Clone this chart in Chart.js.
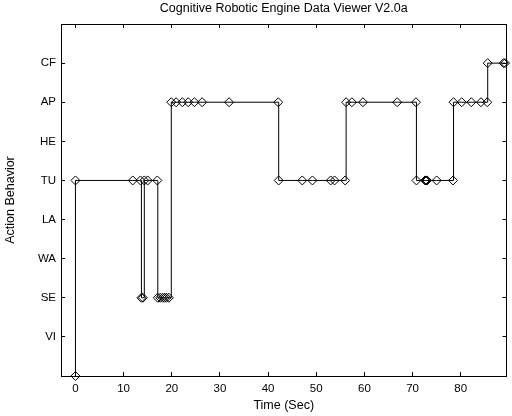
<!DOCTYPE html>
<html>
<head>
	<title>Cognitive Robotic Engine Data Viewer</title>
	<style>
		body { margin: 0; background: #fff; }
		#wrap { width: 512px; height: 416px; }
	</style>
	<script src="https://cdn.jsdelivr.net/npm/chart.js"></script>
</head>
<body>
	<div id="wrap"><canvas id="behaviorChart"></canvas></div>
	<script>
		// time of each recorded behavior change (sec)
		const timeSec = [0, 0, 11.9, 13.5, 13.7, 14.0, 14.3, 15.0, 17.0, 17.1, 17.6, 18.1, 18.5, 18.9, 19.4,
			19.9, 20.9, 22.2, 23.4, 24.7, 26.3, 31.9, 42.1, 42.2, 47.1, 49.2, 53.0, 53.8, 56.0,
			56.2, 57.4, 59.7, 66.8, 70.7, 70.8, 72.6, 72.8, 73.0, 75.0, 78.4, 78.5, 80.2, 82.2,
			84.2, 85.5, 85.6, 88.9, 89.2];
		// behavior index (see behaviorLabels)
		const behaviorIdx = [0, 5, 5, 5, 2, 2, 5, 5, 5, 2, 2, 2, 2, 2, 2,
			7, 7, 7, 7, 7, 7, 7, 7, 5, 5, 5, 5, 5, 5,
			7, 7, 7, 7, 7, 5, 5, 5, 5, 5, 5, 7, 7, 7,
			7, 7, 8, 8, 8];
		const behaviorLabels = ['', 'VI', 'SE', 'WA', 'LA', 'TU', 'HE', 'AP', 'CF'];
		const xTicks = [0, 10, 20, 30, 40, 50, 60, 70, 80];
		const yTicks = [1, 2, 3, 4, 5, 6, 7, 8];

		Chart.defaults.font.family = "'Liberation Sans', Arial, sans-serif";
		Chart.defaults.font.size = 11.5;
		Chart.defaults.color = '#000';

		const points = timeSec.map((t, i) => ({ x: t, y: behaviorIdx[i] }));

		const tickGrid = { drawOnChartArea: false, drawTicks: true, tickLength: -4, color: '#000', lineWidth: 1 };
		const border = { display: true, color: '#000', width: 1 };

		new Chart(document.getElementById('behaviorChart'), {
			type: 'line',
			data: {
				datasets: [{
					data: points,
					stepped: true,
					borderColor: '#000',
					borderWidth: 1,
					pointStyle: 'rectRot',
					pointRadius: 4.5,
					pointBorderColor: '#000',
					pointBackgroundColor: 'rgba(0,0,0,0)',
					pointBorderWidth: 1,
					clip: false,
					xAxisID: 'x',
					yAxisID: 'y'
				}]
			},
			options: {
				animation: false,
				responsive: true,
				maintainAspectRatio: false,
				layout: { padding: 0 },
				plugins: {
					legend: { display: false },
					tooltip: { enabled: false },
					title: {
						display: true,
						fullSize: false,
						text: 'Cognitive Robotic Engine Data Viewer V2.0a',
						font: { size: 12.5, weight: 'normal' },
						color: '#000',
						padding: { top: 1, bottom: 8 }
					}
				},
				scales: {
					x: {
						type: 'linear', position: 'bottom', min: -3, max: 89.5,
						afterBuildTicks: a => { a.ticks = xTicks.map(v => ({ value: v })); },
						afterFit: s => { s.height = 40; },
						grid: tickGrid, border: border,
						ticks: { padding: 10, maxRotation: 0 },
						title: { display: true, text: 'Time (Sec)', font: { size: 12.5 }, padding: { top: 0, bottom: 3 } }
					},
					x2: {
						type: 'linear', position: 'top', min: -3, max: 89.5,
						afterBuildTicks: a => { a.ticks = xTicks.map(v => ({ value: v })); },
						afterFit: s => { s.height = 0; },
						grid: tickGrid, border: border,
						ticks: { display: false }
					},
					y: {
						type: 'linear', position: 'left', min: 0, max: 9,
						afterBuildTicks: a => { a.ticks = yTicks.map(v => ({ value: v })); },
						afterFit: s => { s.width = 61; },
						grid: tickGrid, border: border,
						ticks: { padding: 9, callback: v => behaviorLabels[v] },
						title: { display: true, text: 'Action Behavior', font: { size: 12.5 }, padding: { top: 3, bottom: 0 } }
					},
					y2: {
						type: 'linear', position: 'right', min: 0, max: 9,
						afterBuildTicks: a => { a.ticks = yTicks.map(v => ({ value: v })); },
						afterFit: s => { s.width = 4; },
						grid: tickGrid, border: border,
						ticks: { display: false }
					}
				}
			}
		});
	</script>
</body>
</html>
